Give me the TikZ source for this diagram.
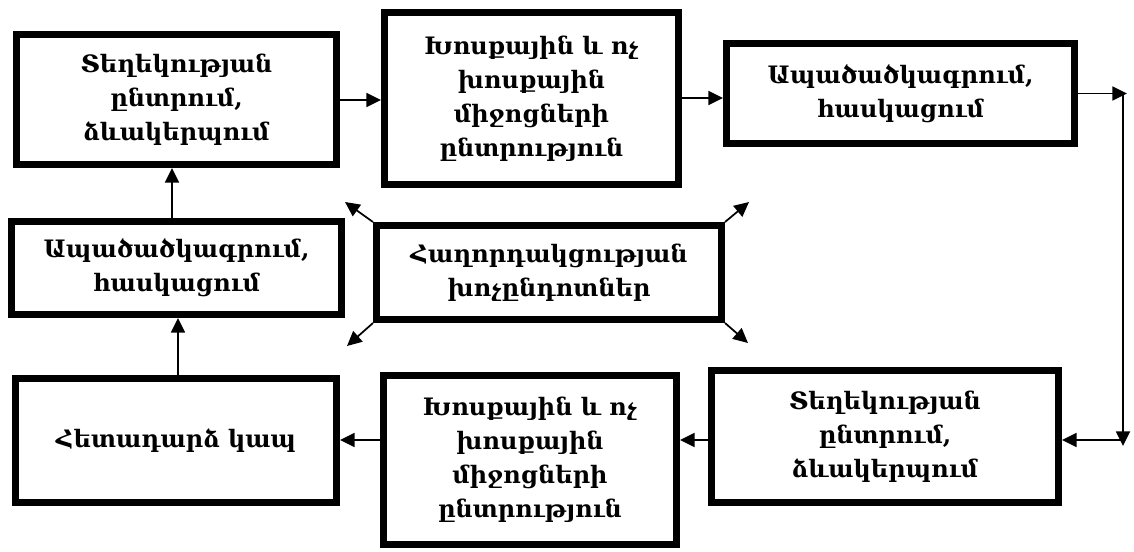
\documentclass[tikz,border=0pt]{standalone}
\usepackage{fontspec}
\setmainfont{DejaVu Serif}[Script=Armenian]
\usetikzlibrary{arrows.meta}
\begin{document}
\begin{tikzpicture}[x=0.75pt,y=-0.75pt,
  blk/.style={draw,line width=5.25pt,align=center,inner sep=0pt,
    font=\bfseries\fontsize{18}{25.5}\selectfont},
  arr/.style={line width=1.3pt,-{Triangle[length=11pt,width=10.5pt]}}]
\useasboundingbox (0,0) rectangle (1134,551);
\node[blk,minimum width=320*0.75pt,minimum height=130*0.75pt] (A) at (176.5,99.5) {Տեղեկության\\ընտրում,\\ձևակերպում};
\node[blk,minimum width=294*0.75pt,minimum height=172*0.75pt] (B) at (531.5,98.5) {Խոսքային և ոչ\\խոսքային\\միջոցների\\ընտրություն};
\node[blk,minimum width=348*0.75pt,minimum height=100*0.75pt] (C) at (900.5,93.5) {Ապածածկագրում,\\հասկացում};
\node[blk,minimum width=347*0.75pt,minimum height=132*0.75pt] (D) at (885,436.5) {Տեղեկության\\ընտրում,\\ձևակերպում};
\node[blk,minimum width=293*0.75pt,minimum height=169*0.75pt] (E) at (530,460) {Խոսքային և ոչ\\խոսքային\\միջոցների\\ընտրություն};
\node[blk,minimum width=321*0.75pt,minimum height=124*0.75pt] (F) at (176,440.5) {Հետադարձ կապ};
\node[blk,minimum width=330*0.75pt,minimum height=93*0.75pt] (G) at (176.5,268) {Ապածածկագրում,\\հասկացում};
\node[blk,minimum width=345*0.75pt,minimum height=94*0.75pt] (H) at (549,272.5) {Հաղորդակցության\\խոչընդոտներ};
\coordinate (r1) at (1127,93.5);
\coordinate (r1v) at (1123,93.5);
\coordinate (r2) at (1123,446);
\coordinate (r2h) at (1123,440);
\coordinate (h1) at (345,202);
\coordinate (h2) at (749,202);
\coordinate (h3) at (347,346);
\coordinate (h4) at (748,343);
\draw[arr] (A.east |- 0,100) -- (B.west |- 0,100);
\draw[arr] (B.east |- 0,98) -- (C.west |- 0,98);
\draw[arr] (C.east) -- (r1);
\draw[arr] (r1v) -- (r2);
\draw[arr] (r2h) -- (D.east |- r2h);
\draw[arr] (D.west |- 0,440) -- (E.east |- 0,440);
\draw[arr] (E.west |- 0,440) -- (F.east |- 0,440);
\draw[arr] (F.north -| 178,0) -- (G.south -| 178,0);
\draw[arr] (G.north -| 172,0) -- (A.south -| 172,0);
\draw[arr] (H.north west) -- (h1);
\draw[arr] (H.north east) -- (h2);
\draw[arr] (H.south west) -- (h3);
\draw[arr] (H.south east) -- (h4);
\end{tikzpicture}
\end{document}
